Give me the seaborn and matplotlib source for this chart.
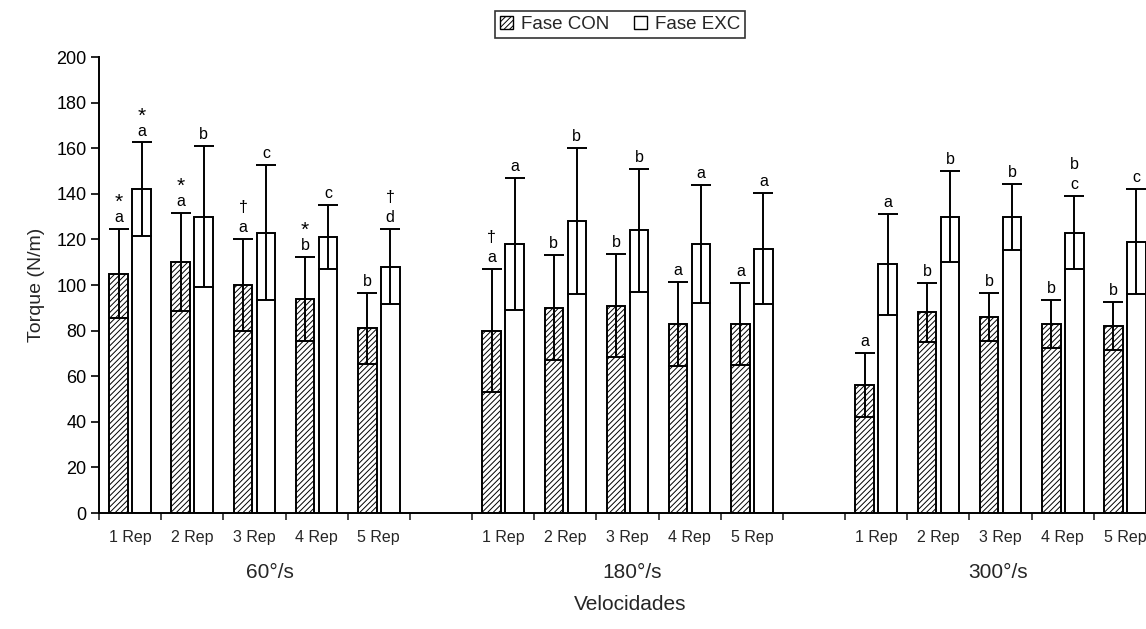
import matplotlib
matplotlib.use("Agg")
import matplotlib.pyplot as plt
from matplotlib.patches import Patch
import seaborn as sns
import pandas as pd

# ---------------- data ----------------
velocities = ["60°/s", "180°/s", "300°/s"]
reps = ["1 Rep", "2 Rep", "3 Rep", "4 Rep", "5 Rep"]
phases = ["Fase CON", "Fase EXC"]

con_mean = [105, 110, 100, 94, 81,
            80, 90, 91, 83, 83,
            56, 88, 86, 83, 82]
con_sd = [19.5, 21.5, 20, 18.5, 15.5,
          27, 23, 22.5, 18.5, 18,
          14, 13, 10.5, 10.5, 10.5]
exc_mean = [142, 130, 123, 121, 108,
            118, 128, 124, 118, 116,
            109, 130, 130, 123, 119]
exc_sd = [20.5, 31, 29.5, 14, 16.5,
          29, 32, 27, 26, 24.5,
          22, 20, 14.5, 16, 23]
con_labels = [["a", "*"], ["a", "*"], ["a", "†"], ["b", "*"], ["b"],
              ["a", "†"], ["b"], ["b"], ["a"], ["a"],
              ["a"], ["b"], ["b"], ["b"], ["b"]]
exc_labels = [["a", "*"], ["b"], ["c"], ["c"], ["d", "†"],
              ["a"], ["b"], ["b"], ["a"], ["a"],
              ["a"], ["b"], ["b"], ["c", "b"], ["c"]]

# category slots (with an empty slot between velocity groups)
order = []
slot_rep = []
for gi, v in enumerate(velocities):
    for r in reps:
        order.append(f"{v} {r}")
        slot_rep.append(r)
    if gi < len(velocities) - 1:
        order.append(f"gap{gi}")
        slot_rep.append("")

cats = [f"{v} {r}" for v in velocities for r in reps]
df = pd.DataFrame({
    "cat": cats * 2,
    "Fase": [phases[0]] * len(cats) + [phases[1]] * len(cats),
    "Torque": con_mean + exc_mean,
})
sd_map = {(c, phases[0]): s for c, s in zip(cats, con_sd)}
sd_map.update({(c, phases[1]): s for c, s in zip(cats, exc_sd)})
lab_map = {(c, phases[0]): l for c, l in zip(cats, con_labels)}
lab_map.update({(c, phases[1]): l for c, l in zip(cats, exc_labels)})
mean_map = {(c, phases[0]): m for c, m in zip(cats, con_mean)}
mean_map.update({(c, phases[1]): m for c, m in zip(cats, exc_mean)})

# ---------------- style ----------------
sns.set_style("ticks")
plt.rcParams["font.family"] = ["Liberation Sans", "DejaVu Sans"]
plt.rcParams["hatch.linewidth"] = 0.7

W, H = 1146, 629
fig = plt.figure(figsize=(W / 100, H / 100), dpi=100)
ax = fig.add_axes([99 / W, 1 - 513 / H, 1057 / W, 456 / H])

sns.barplot(data=df, x="cat", y="Torque", hue="Fase", order=order,
            hue_order=phases, palette={phases[0]: "white", phases[1]: "white"},
            saturation=1, edgecolor="black", linewidth=1.4,
            width=0.74, gap=0.19, errorbar=None, legend=False, ax=ax)

bar_containers = list(ax.containers)
for hi, cont in enumerate(bar_containers):
    ph = phases[hi]
    for bar in cont:
        if hi == 0:
            bar.set_hatch("//////")
        cx = bar.get_x() + bar.get_width() / 2
        slot = int(round(cx))
        cat = order[slot]
        if (cat, ph) not in sd_map:
            continue
        m = mean_map[(cat, ph)]
        s = sd_map[(cat, ph)]
        ax.errorbar(cx, m, yerr=s, fmt="none", ecolor="black",
                    elinewidth=1.4, capsize=7, capthick=1.4, zorder=4)
        labs = lab_map[(cat, ph)]
        for k, t in enumerate(labs):
            if t == "*":
                ax.annotate(t, xy=(cx, m + s), xytext=(0, 7 + 20 * k - 6),
                            textcoords="offset pixels", ha="center",
                            va="baseline", fontsize=15, color="black")
            else:
                ax.annotate(t, xy=(cx, m + s), xytext=(0, 7 + 20 * k),
                            textcoords="offset pixels", ha="center",
                            va="baseline", fontsize=11.5, color="black")

# axes
ax.set_ylim(0, 200)
ax.set_xlim(-0.5, len(order) - 0.5)
ax.set_yticks(range(0, 201, 20))
ax.tick_params(axis="y", labelsize=13, length=6, width=1.2, colors="black", pad=3)
ax.set_xticks(range(len(order)))
ax.set_xticklabels(slot_rep, fontsize=11.5)
ax.tick_params(axis="x", which="major", length=0, pad=12)
ax.set_xticks([i - 0.5 for i in range(len(order) + 1)], minor=True)
ax.tick_params(axis="x", which="minor", length=5, width=1.2, direction="out")
ax.set_ylabel("Torque (N/m)", fontsize=14, labelpad=8)
ax.set_xlabel("")
for sp in ["top", "right"]:
    ax.spines[sp].set_visible(False)
for sp in ["left", "bottom"]:
    ax.spines[sp].set_linewidth(1.4)
    ax.spines[sp].set_color("black")

# group labels (velocities) and axis title
group_px = [270, 632, 998]
for v, px in zip(velocities, group_px):
    fig.text(px / W, 1 - 573 / H, v, ha="center", va="center", fontsize=15)
fig.text(630 / W, 1 - 604 / H, "Velocidades", ha="center", va="center", fontsize=15)

# legend
handles = [Patch(facecolor="white", edgecolor="black", hatch="//////", linewidth=1),
           Patch(facecolor="white", edgecolor="black", linewidth=1)]
leg = fig.legend(handles, phases, loc="upper center", ncol=2,
                 bbox_to_anchor=(620 / W, 1 - 11 / H), fontsize=13.5,
                 frameon=True, fancybox=False, edgecolor="black",
                 handlelength=0.7, handleheight=0.7, handletextpad=0.45,
                 columnspacing=1.3, borderpad=0.25, borderaxespad=0)
leg.get_frame().set_linewidth(1.2)

fig.savefig("out.png", dpi=100)
